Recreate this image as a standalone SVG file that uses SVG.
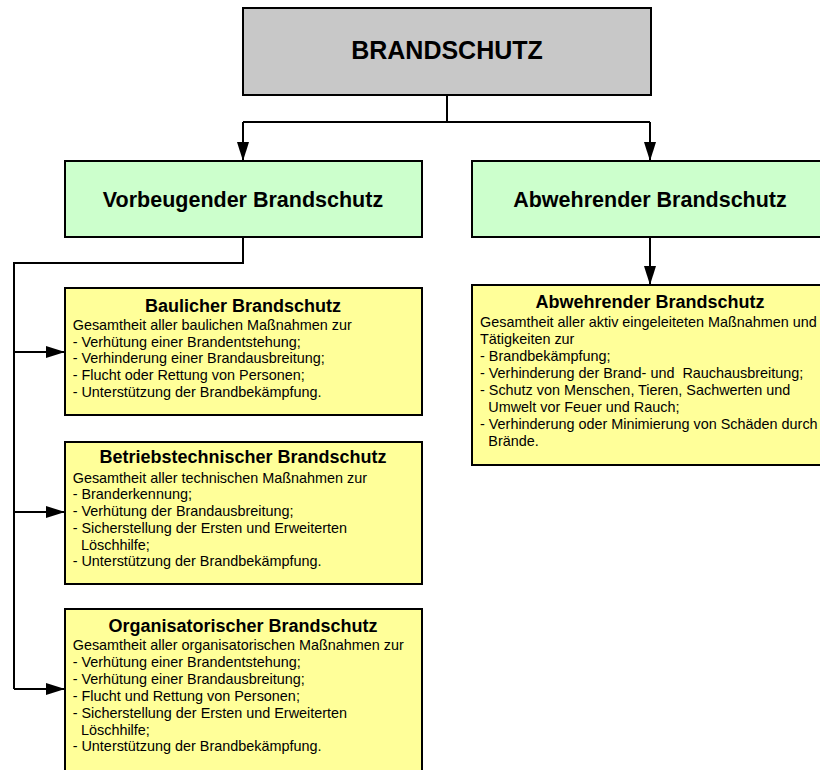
<svg xmlns="http://www.w3.org/2000/svg" width="820" height="770" viewBox="0 0 820 770">
<style>
.box{stroke:#000;stroke-width:2}
.gray{fill:#c8c8c8}
.green{fill:#ccffcc}
.yellow{fill:#ffff99}
text{font-family:"Liberation Sans",Arial,sans-serif;fill:#000}
.t1{font-size:25px;font-weight:bold;text-anchor:middle}
.t2{font-size:21.5px;font-weight:bold;text-anchor:middle}
.t3{font-size:18px;font-weight:bold;text-anchor:middle}
.b{font-size:14.4px}
.conn{fill:none;stroke:#000;stroke-width:2}
</style>
<defs>
<marker id="arr" markerUnits="userSpaceOnUse" markerWidth="20" markerHeight="12" refX="19" refY="6" orient="auto">
<path d="M0,0 L19,6 L0,12 z" fill="#000"/>
</marker>
</defs>
<rect width="820" height="770" fill="#fff"/>
<g id="connectors" class="conn">
<path d="M447,95 V122 M243,122 H650"/>
<path d="M243,122 V161" marker-end="url(#arr)"/>
<path d="M650,122 V161" marker-end="url(#arr)"/>
<path d="M243,237 V263 H14 V689"/>
<path d="M14,352 H65" marker-end="url(#arr)"/>
<path d="M14,512 H65" marker-end="url(#arr)"/>
<path d="M14,689 H65" marker-end="url(#arr)"/>
<path d="M650,237 V285" marker-end="url(#arr)"/>
</g>
<g id="brandschutz">
<rect class="box gray" x="243" y="8" width="408" height="87"/>
<text class="t1" x="447" y="58.5">BRANDSCHUTZ</text>
</g>
<g id="vorbeugend">
<rect class="box green" x="65" y="161" width="357" height="76"/>
<text class="t2" x="243" y="207">Vorbeugender Brandschutz</text>
</g>
<g id="abwehrend">
<rect class="box green" x="472" y="161" width="360" height="76"/>
<text class="t2" x="650" y="207">Abwehrender Brandschutz</text>
</g>
<g id="baulich">
<rect class="box yellow" x="65" y="288" width="357" height="127"/>
<text class="t3" x="243" y="311.7">Baulicher Brandschutz</text>
<text class="b" x="72.7" y="330">Gesamtheit aller baulichen Maßnahmen zur</text>
<text class="b" x="72.7" y="346.7">- Verhütung einer Brandentstehung;</text>
<text class="b" x="72.7" y="363.4">- Verhinderung einer Brandausbreitung;</text>
<text class="b" x="72.7" y="380.1">- Flucht oder Rettung von Personen;</text>
<text class="b" x="72.7" y="396.8">- Unterstützung der Brandbekämpfung.</text>
</g>
<g id="betriebstechnisch">
<rect class="box yellow" x="65" y="442" width="357" height="142"/>
<text class="t3" x="243" y="463.3">Betriebstechnischer Brandschutz</text>
<text class="b" x="72.7" y="482.7">Gesamtheit aller technischen Maßnahmen zur</text>
<text class="b" x="72.7" y="499.4">- Branderkennung;</text>
<text class="b" x="72.7" y="516.1">- Verhütung der Brandausbreitung;</text>
<text class="b" x="72.7" y="532.8">- Sicherstellung der Ersten und Erweiterten</text>
<text class="b" x="81" y="549.5">Löschhilfe;</text>
<text class="b" x="72.7" y="566.2">- Unterstützung der Brandbekämpfung.</text>
</g>
<g id="organisatorisch">
<rect class="box yellow" x="65" y="609" width="357" height="175"/>
<text class="t3" x="243" y="631.7">Organisatorischer Brandschutz</text>
<text class="b" x="72.7" y="650">Gesamtheit aller organisatorischen Maßnahmen zur</text>
<text class="b" x="72.7" y="666.9">- Verhütung einer Brandentstehung;</text>
<text class="b" x="72.7" y="683.8">- Verhütung einer Brandausbreitung;</text>
<text class="b" x="72.7" y="700.7">- Flucht und Rettung von Personen;</text>
<text class="b" x="72.7" y="717.6">- Sicherstellung der Ersten und Erweiterten</text>
<text class="b" x="81" y="734.5">Löschhilfe;</text>
<text class="b" x="72.7" y="751.4">- Unterstützung der Brandbekämpfung.</text>
</g>
<g id="abwehrend-detail">
<rect class="box yellow" x="472" y="285" width="360" height="180"/>
<text class="t3" x="650" y="308.3">Abwehrender Brandschutz</text>
<text class="b" x="480" y="327.3">Gesamtheit aller aktiv eingeleiteten Maßnahmen und</text>
<text class="b" x="480" y="344.2">Tätigkeiten zur</text>
<text class="b" x="480" y="361.1">- Brandbekämpfung;</text>
<text class="b" x="480" y="378">- Verhinderung der Brand- und&#160; Rauchausbreitung;</text>
<text class="b" x="480" y="394.9">- Schutz von Menschen, Tieren, Sachwerten und</text>
<text class="b" x="488.3" y="411.8">Umwelt vor Feuer und Rauch;</text>
<text class="b" x="480" y="428.7">- Verhinderung oder Minimierung von Schäden durch</text>
<text class="b" x="488.3" y="445.6">Brände.</text>
</g>
</svg>
